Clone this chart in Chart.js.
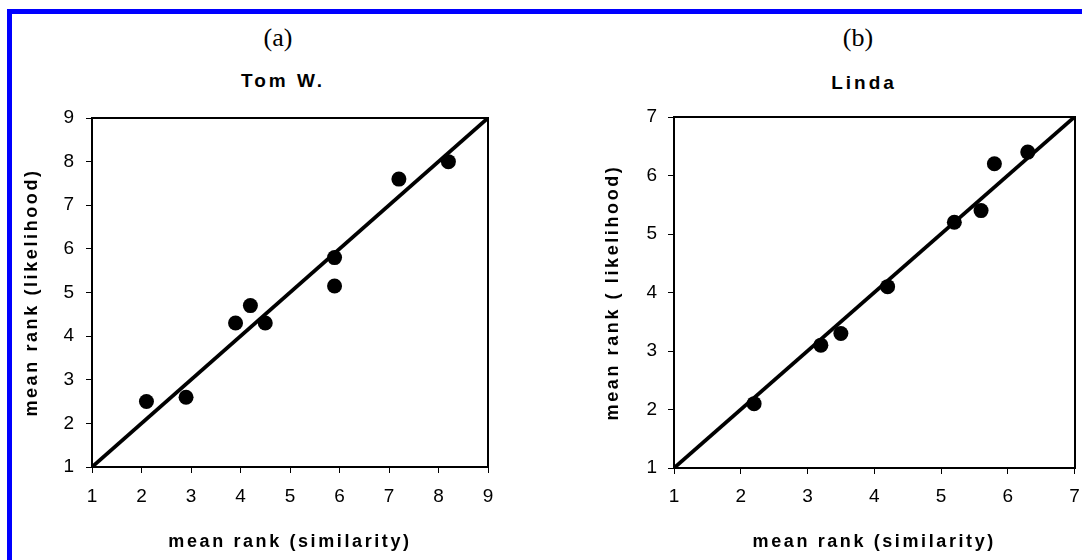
<!DOCTYPE html>
<html>
<head>
<meta charset="utf-8">
<script src="https://cdn.jsdelivr.net/npm/chart.js@4/dist/chart.umd.min.js"></script>
<style>
  html, body { margin:0; padding:0; background:#fff; }
  body { width:1082px; height:560px; position:relative; overflow:hidden; font-family:"Liberation Sans", Arial, sans-serif; }
  #frame { position:absolute; left:7px; top:9px; width:1100px; height:600px; border-top:5px solid #0000FF; border-left:5px solid #0000FF; box-sizing:border-box; }
  .lab { position:absolute; transform:translate(-50%,-50%); line-height:1; white-space:nowrap; color:#000; }
  .panel { font-family:"Liberation Serif", "Times New Roman", serif; font-size:26px; }
  .ttl { font-family:"Liberation Sans", Arial, sans-serif; font-weight:bold; font-size:19px; letter-spacing:3px; }
  #wrapA { position:absolute; left:12px; top:14px; width:528px; height:546px; }
  #wrapB { position:absolute; left:540px; top:14px; width:542px; height:546px; }
</style>
</head>
<body>
<div id="frame"></div>
<div class="lab panel" style="left:278px; top:38px;">(a)</div>
<div class="lab ttl" style="left:283px; top:80px;">Tom W.</div>
<div class="lab panel" style="left:858px; top:38px;">(b)</div>
<div class="lab ttl" style="left:864px; top:82px;">Linda</div>
<div id="wrapA"><canvas id="chartA"></canvas></div>
<div id="wrapB"><canvas id="chartB"></canvas></div>
<script>
// ---- Data ----
const tomSimilarity = [2.1, 2.9, 3.9, 4.2, 4.5, 5.9, 5.9, 7.2, 8.2];
const tomLikelihood = [2.5, 2.6, 4.3, 4.7, 4.3, 5.8, 5.15, 7.6, 8.0];
const tomTicks = [1, 2, 3, 4, 5, 6, 7, 8, 9];

const lindaSimilarity = [2.2, 3.2, 3.5, 4.2, 5.2, 5.6, 5.8, 6.3];
const lindaLikelihood = [2.1, 3.1, 3.3, 4.1, 5.2, 5.4, 6.2, 6.4];
const lindaTicks = [1, 2, 3, 4, 5, 6, 7];

const xTitle = 'mean rank (similarity)';
const yTitleA = 'mean rank (likelihood)';
const yTitleB = 'mean rank ( likelihood)';

const FONT = '"Liberation Sans", Arial, sans-serif';

const spacingPlugin = {
  id: 'spacing',
  beforeDraw(chart) { chart.ctx.letterSpacing = '2.6px'; },
  beforeDatasetsDraw(chart) { chart.ctx.letterSpacing = '0px'; }
};

function makeChart(id, xs, ys, ticks, yTitle, geo) {
  const pts = xs.map((x, i) => ({x: x, y: ys[i]}));
  const lo = ticks[0], hi = ticks[ticks.length - 1];
  const diag = [{x: lo, y: lo}, {x: hi, y: hi}];
  return new Chart(document.getElementById(id), {
    type: 'scatter',
    data: {
      datasets: [
        { label: 'points', data: pts, backgroundColor: '#000', borderColor: '#000',
          pointRadius: 7.5, pointHoverRadius: 7.5, borderWidth: 0 },
        { type: 'line', label: 'y = x', data: diag, borderColor: '#000', borderWidth: 3.8,
          pointRadius: 0, fill: false, tension: 0 }
      ]
    },
    options: {
      responsive: true,
      maintainAspectRatio: false,
      animation: false,
      events: [],
      layout: { padding: { top: geo.top, right: geo.right, bottom: 3, left: 0 } },
      plugins: { legend: { display: false }, tooltip: { enabled: false }, title: { display: false } },
      scales: {
        x: {
          type: 'linear', position: 'bottom', min: lo, max: hi,
          afterBuildTicks: (s) => { s.ticks = ticks.map(v => ({value: v})); },
          afterFit: (s) => { s.height = geo.xh; s.paddingRight = 4; s.paddingLeft = 4; },
          ticks: { color: '#000', font: { family: FONT, size: 19 }, padding: geo.xpad, z: 1, maxRotation: 0 },
          grid: { display: true, drawOnChartArea: false, drawTicks: true, tickLength: 6, color: '#000', lineWidth: 1 },
          border: { display: true, color: '#000', width: 2 },
          title: { display: true, text: xTitle, color: '#000', font: { family: FONT, size: 18, weight: 'bold' }, padding: { top: 4, bottom: 4 } }
        },
        y: {
          type: 'linear', position: 'left', min: lo, max: hi,
          afterBuildTicks: (s) => { s.ticks = ticks.map(v => ({value: v})); },
          afterFit: (s) => { s.width = geo.yw; },
          ticks: { color: '#000', font: { family: FONT, size: 19 }, padding: geo.ypad, z: 1 },
          grid: { display: true, drawOnChartArea: false, drawTicks: true, tickLength: 6, color: '#000', lineWidth: 1 },
          border: { display: true, color: '#000', width: 2 },
          title: { display: true, text: yTitle, color: '#000', font: { family: FONT, size: 18, weight: 'bold' }, padding: { top: geo.ytp, bottom: 0 } }
        },
        x2: {
          type: 'linear', position: 'top', min: lo, max: hi,
          afterFit: (s) => { s.height = 0; },
          ticks: { display: false },
          grid: { display: false, drawTicks: false },
          border: { display: true, color: '#000', width: 2 }
        },
        y2: {
          type: 'linear', position: 'right', min: lo, max: hi,
          afterFit: (s) => { s.width = 0; },
          ticks: { display: false },
          grid: { display: false, drawTicks: false },
          border: { display: true, color: '#000', width: 2 }
        }
      }
    },
    plugins: [spacingPlugin]
  });
}

makeChart('chartA', tomSimilarity, tomLikelihood, tomTicks, yTitleA,
  { top: 104, right: 52, xh: 90, yw: 80, xpad: 12, ypad: 12, ytp: 9 });
makeChart('chartB', lindaSimilarity, lindaLikelihood, lindaTicks, yTitleB,
  { top: 103, right: 5, xh: 89, yw: 134, xpad: 11, ypad: 11, ytp: 62 });
</script>
</body>
</html>
